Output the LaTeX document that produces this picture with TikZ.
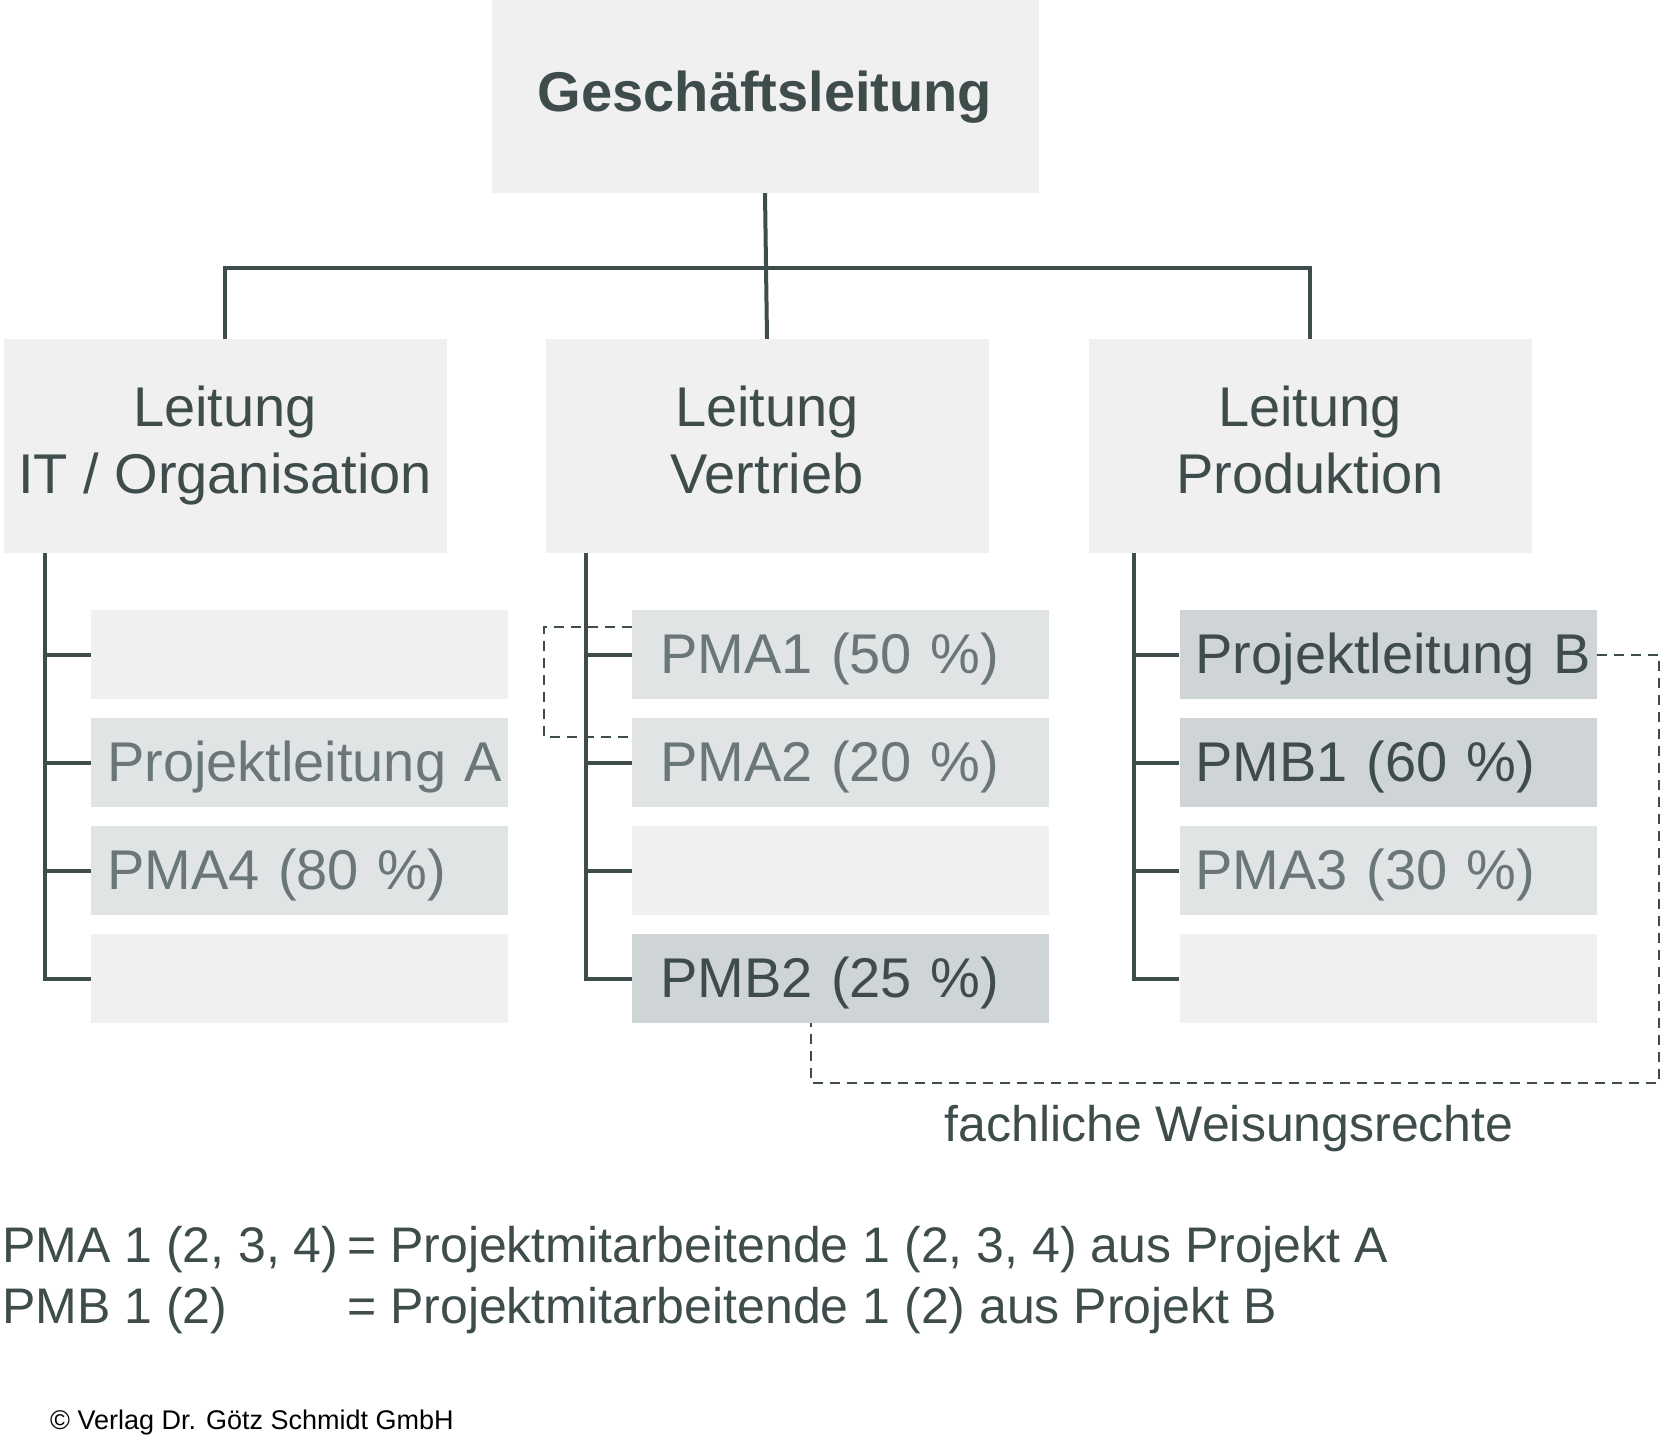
\documentclass[tikz,border=0pt]{standalone}
\usepackage{fontspec}
\setmainfont{Liberation Sans}
\usetikzlibrary{positioning}
\definecolor{boxlight}{HTML}{EFF0EF}
\definecolor{boxmid}{HTML}{E1E4E5}
\definecolor{boxdark}{HTML}{CFD4D6}
\definecolor{inkdark}{HTML}{3F4C4C}
\definecolor{inkgrey}{HTML}{6B7777}
\newcommand{\boxfont}{\fontsize{56}{67}\selectfont}
\newcommand{\keyfont}{\fontsize{50}{60}\selectfont}
\tikzset{
  orgline/.style={draw=inkdark, line width=4pt},
  dashline/.style={draw=inkdark, line width=2pt, dash pattern=on 10pt off 7pt},
  head/.style={fill=boxlight, minimum width=443pt, minimum height=214pt, inner sep=0pt, text depth=12pt, align=center, text=inkdark, font=\boxfont},
  sub/.style={fill=boxlight, minimum height=89pt, inner ysep=0pt, text height=40pt, text depth=3pt, align=left, font=\boxfont},
  padA/.style={inner xsep=16pt, text width=385pt},
  padB/.style={inner xsep=28pt, text width=361pt},
  planA/.style={fill=boxmid, text=inkgrey},
  planB/.style={fill=boxdark, text=inkdark},
  keytext/.style={anchor=base west, inner sep=0pt, text=inkdark, font=\keyfont}
}
\begin{document}
\begin{tikzpicture}[x=1pt, y=-1pt]
        \useasboundingbox (0,0) rectangle (1661,1436);
        \node [fill=boxlight, minimum width=547pt, minimum height=193pt, inner sep=0pt, text height=40pt, text depth=11pt, text=inkdark, font=\boxfont\bfseries] (GL) at (765,96.5) {Geschäftsleitung};

        \node [on grid, below left=349.5pt and 540pt of GL, head] (IT) {Leitung\\IT / Organisation};
        \node [on grid, below right=349.5pt and 2pt of GL, head] (VT) {Leitung\\Vertrieb};
        \node [on grid, below right=349.5pt and 545pt of GL, head] (PR) {Leitung\\Produktion};
        \draw [orgline] (GL.south) to (VT.north);
        \draw [orgline] (IT.north) to ++(0,71pt) -| (PR.north);

        \node [on grid, below right=208.5pt and 74.5pt of IT, sub, padA] (IT1) {};
        \node [on grid, below=108pt of IT1, sub, padA, planA] (IT2) {\mbox{Projektleitung A}};
        \node [on grid, below=108pt of IT2, sub, padA, planA] (IT3) {PMA4 (80 \%)};
        \node [on grid, below=108pt of IT3, sub, padA] (IT4) {};

        \node [on grid, below right=208.5pt and 73.5pt of VT, sub, padB, planA] (VT1) {PMA1 (50 \%)};
        \node [on grid, below=108pt of VT1, sub, padB, planA] (VT2) {PMA2 (20 \%)};
        \node [on grid, below=108pt of VT2, sub, padB] (VT3) {};
        \node [on grid, below=108pt of VT3, sub, padB, planB] (VT4) {PMB2 (25 \%)};

        \node [on grid, below right=208.5pt and 78pt of PR, sub, padA, planB] (PR1) {\mbox{Projektleitung B}};
        \node [on grid, below=108pt of PR1, sub, padA, planB] (PR2) {PMB1 (60 \%)};
        \node [on grid, below=108pt of PR2, sub, padA, planA] (PR3) {PMA3 (30 \%)};
        \node [on grid, below=108pt of PR3, sub, padA] (PR4) {};

        \foreach \col in {IT,VT,PR} {
          \draw [orgline] ([xshift=-45.5pt]\col1.west |- \col.south) |- (\col4.west);
          \foreach \row in {1,2,3}
            \draw [orgline] (\col\row.west) to ++(-45.5pt,0);
        }

        \draw [dashline] ([yshift=27.5pt]VT1.west) to ++(-88pt,0) |- ([yshift=25.5pt]VT2.west);
        \draw [dashline] (PR1.east) to ++(62pt,0) to ++(0,-428.5pt) -| ([xshift=-29.5pt]VT4.south);
        \node [anchor=base, inner sep=0pt, text=inkdark, font=\keyfont] (Weis) at (1229,1141) {fachliche Weisungsrechte};

        \node [keytext] (KeyA) at (2,1262) {PMA 1 (2, 3, 4)};
        \node [keytext] (KeyAText) at (347,1262) {= Projektmitarbeitende 1 (2, 3, 4) aus Projekt A};
        \node [keytext] (KeyB) at (2,1323) {PMB 1 (2)};
        \node [keytext] (KeyBText) at (347,1323) {= Projektmitarbeitende 1 (2) aus Projekt B};

        \node [anchor=base west, inner sep=0pt, font=\fontsize{27}{32}\selectfont] (Copy) at (50,1429) {© Verlag Dr. Götz Schmidt GmbH};
\end{tikzpicture}
\end{document}
